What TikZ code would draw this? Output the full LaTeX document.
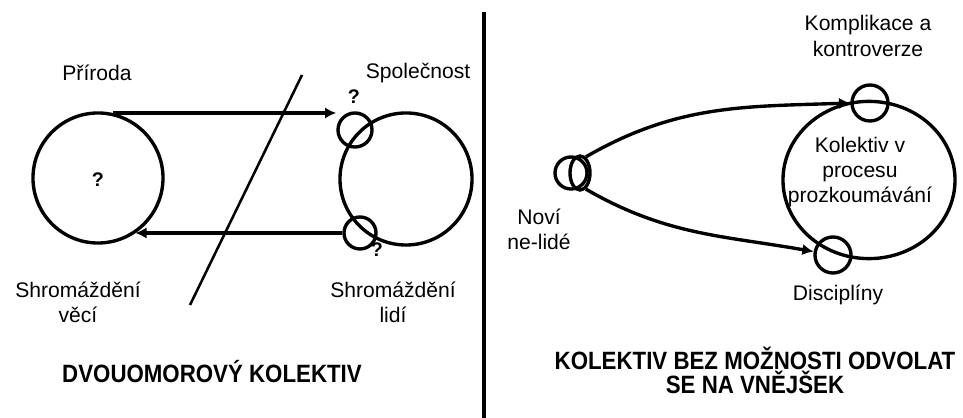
\documentclass[tikz,border=0pt]{standalone}
\usepackage{fontspec}
\setmainfont{Liberation Sans}
\usetikzlibrary{arrows.meta, positioning, shapes.geometric}
\tikzstyle{collective}=[x=0.025cm, y=-0.025cm, line width=2.4pt, >={Latex[length=8pt,width=8pt]}, font=\fontsize{15}{18}\selectfont]
\tikzstyle{ring}=[draw, circle, inner sep=0pt]
\tikzstyle{oval}=[draw, ellipse, inner sep=0pt]
\tikzstyle{tag}=[align=center, inner sep=0pt]
\tikzstyle{query}=[inner sep=0pt, font=\fontsize{14}{16}\selectfont\bfseries]
\tikzstyle{heading}=[align=center, inner sep=0pt, font=\fontsize{17.8}{17}\selectfont\bfseries]
\newcommand{\narrow}[1]{\scalebox{0.89}[1]{#1}}

\begin{document}
\begin{tikzpicture}[collective]
  \useasboundingbox (0,0) rectangle (963,418);
  % dvouomorovy kolektiv
  \node[ring, minimum size=3.25cm] (nat) at (98,178) {};
  \node[ring, minimum size=3.3cm] (soc) at (406,179) {};
  \node[ring, minimum size=0.85cm] (q1) at (355,130) {};
  \node[ring, minimum size=0.8cm] (q2) at (360,233) {};
  \node[query] (natq) at (98,180) {?};
  \node[query] (q1q) at (354,97) {?};
  \node[query] (q2q) at (377,250) {?};
  \path[->] (nat.77) edge (nat.77 -| q1.west);
  \path[->] (q2.west) edge (q2.west -| nat.-56);
  \coordinate (cut1) at (302,75);
  \coordinate (cut2) at (190,305);
  \draw[line width=1.8pt] (cut1) -- (cut2);
  \node[tag] (natl) at (97,73) {Příroda};
  \node[tag] (socl) at (418,73) {Společnost};
  \node[tag] (thingsl) at (78,302) {Shromáždění\\věcí};
  \node[tag] (peoplel) at (393,302) {Shromáždění\\lidí};
  \node[heading] (left) at (212,372) {\narrow{DVOUOMOROVÝ KOLEKTIV}};
  % delici cara
  \coordinate (top) at (484,12);
  \coordinate (bottom) at (484,418);
  \draw[line width=2.4pt] (top) -- (bottom);
  % kolektiv bez moznosti odvolat se
  \node[oval, minimum width=4.3cm, minimum height=3.93cm] (kol) at (869,180) {};
  \node[ring, minimum size=0.9cm] (kq1) at (870,103) {};
  \node[ring, minimum size=0.9cm] (kq2) at (833,255) {};
  \node[ring, minimum size=0.8cm] (nq) at (571,173) {};
  \node[oval, minimum width=0.5cm, minimum height=0.85cm] (nr) at (580,173) {};
  \path[->] (nr.70) edge[out=30, in=182] (kq1.west);
  \path[->] (nr.-70) edge[out=-30, in=170] (kq2.170);
  \node[tag] (koll) at (860,172) {Kolektiv v\\procesu\\prozkoumávání};
  \node[tag] (kq1l) at (868,36) {Komplikace a\\kontroverze};
  \node[tag] (kq2l) at (838,295) {Disciplíny};
  \node[tag] (nql) at (539,229) {Noví\\ne-lidé};
  \node[heading] (right) at (755,370) {\narrow{KOLEKTIV BEZ MOŽNOSTI ODVOLAT}\\\narrow{SE NA VNĚJŠEK}};
\end{tikzpicture}
\end{document}
